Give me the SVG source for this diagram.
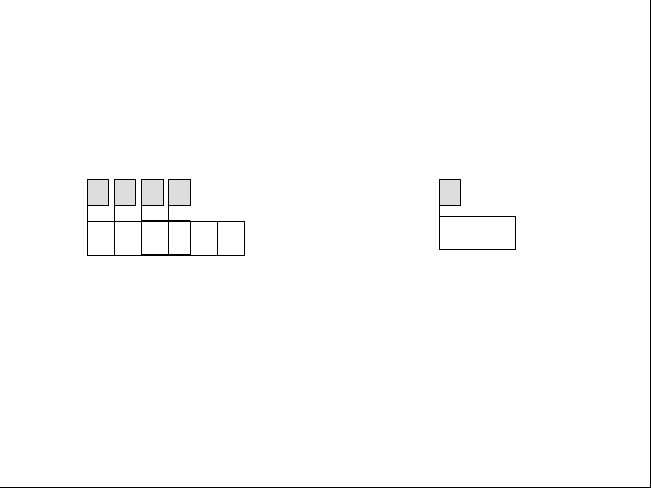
<svg xmlns="http://www.w3.org/2000/svg" width="651" height="488" viewBox="0 0 651 488">
<style>
.g{fill:#dddddd;stroke:#000;stroke-width:1}
.c{fill:#fff;stroke:#000;stroke-width:1}
.l{stroke:#000;stroke-width:1;fill:none}
.t{fill:none;stroke:#000;stroke-width:2}
</style>
<rect x="0" y="0" width="651" height="488" fill="#fff"/>
<g id="frame">
<line class="l" x1="650.5" y1="0" x2="650.5" y2="488"/>
<line class="l" x1="0" y1="487.5" x2="651" y2="487.5"/>
</g>
<g id="connectors">
<line class="l" x1="87.5" y1="205.5" x2="87.5" y2="221.5"/>
<line class="l" x1="114.5" y1="205.5" x2="114.5" y2="221.5"/>
<line class="l" x1="141.5" y1="205.5" x2="141.5" y2="221.5"/>
<line class="l" x1="168.5" y1="205.5" x2="168.5" y2="221.5"/>
<line class="l" x1="439.5" y1="205.5" x2="439.5" y2="216.5"/>
</g>
<g id="row">
<rect class="c" x="87.5" y="221.5" width="27" height="34"/>
<rect class="c" x="114.5" y="221.5" width="27" height="34"/>
<rect class="c" x="141.5" y="221.5" width="27" height="34"/>
<rect class="c" x="168.5" y="221.5" width="22" height="34"/>
<rect class="c" x="190.5" y="221.5" width="27" height="34"/>
<rect class="c" x="217.5" y="221.5" width="27" height="34"/>
<line class="t" x1="141.5" y1="221" x2="190.5" y2="221"/>
<line class="t" x1="141.5" y1="255" x2="190.5" y2="255"/>
</g>
<g id="box1"><rect class="g" x="87.5" y="179.5" width="21" height="26"/></g>
<g id="box2"><rect class="g" x="114.5" y="179.5" width="21" height="26"/></g>
<g id="box3"><rect class="g" x="141.5" y="179.5" width="22" height="26"/></g>
<g id="box4"><rect class="g" x="168.5" y="179.5" width="22" height="26"/></g>
<g id="box5"><rect class="g" x="439.5" y="179.5" width="21" height="26"/></g>
<g id="rect5"><rect class="c" x="439.5" y="216.5" width="76" height="33"/></g>
</svg>
